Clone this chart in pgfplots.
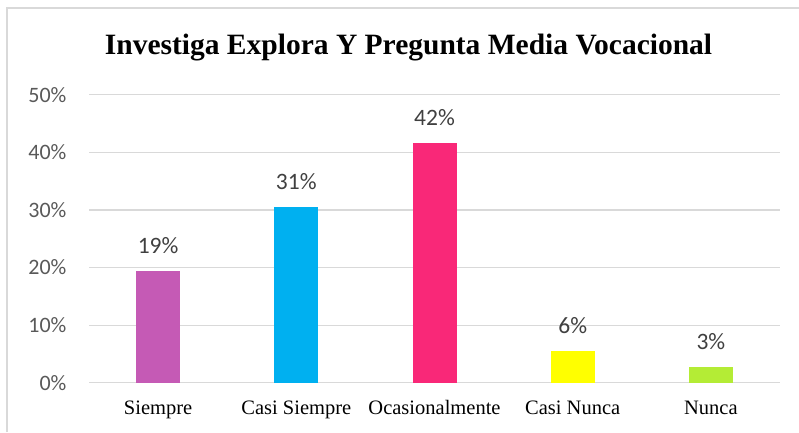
\documentclass[border=0pt]{standalone}
\usepackage{pgfplots}
\pgfplotsset{compat=1.18}
\usepackage{fontspec}
\setmainfont{Liberation Serif}
\newfontfamily\carlito{Carlito}
\definecolor{cSiempre}{HTML}{C55AB5}
\definecolor{cCasiSiempre}{HTML}{00B0F0}
\definecolor{cOcasional}{HTML}{F92878}
\definecolor{cCasiNunca}{HTML}{FFFF00}
\definecolor{cNunca}{HTML}{B4EC35}
\definecolor{gridgray}{HTML}{D9D9D9}
\definecolor{ticktext}{HTML}{595959}
\definecolor{labeltext}{HTML}{404040}
\begin{document}
\begin{tikzpicture}
  \useasboundingbox (0pt,0pt) rectangle (799pt,432pt);
  % chart border (only top and left edges are visible)
  \draw[gridgray, line width=1.5pt] (7pt,0pt) -- (7pt,424pt) -- (799pt,424pt);
  \node[anchor=base, font=\bfseries\fontsize{29.5}{33}\selectfont] at (408.5pt,377.7pt)
    {Investiga Explora Y Pregunta Media Vocacional};
  \begin{axis}[
      at={(89pt,49.3pt)}, anchor=south west,
      scale only axis, width=691pt, height=288pt,
      xmin=-0.5, xmax=4.5, ymin=0, ymax=50,
      xtick={0,1,2,3,4},
      xticklabels={Siempre, Casi Siempre, Ocasionalmente, Casi Nunca, Nunca},
      ytick={0,10,20,30,40,50},
      yticklabel={\pgfmathprintnumber{\tick}\%},
      /pgf/number format/assume math mode=true,
      axis line style={draw=none},
      major tick length=0pt,
      ymajorgrids, grid style={gridgray, line width=1.2pt},
      yticklabel style={font=\carlito\fontsize{22}{25}\selectfont, text=ticktext, xshift=-19pt},
      xticklabel style={font=\fontsize{20.5}{24}\selectfont, anchor=base, yshift=-32pt},
      ybar, bar width=44pt, bar shift=0pt,
      nodes near coords={\pgfmathprintnumber[fixed,precision=0]{\pgfplotspointmeta}\%},
      every node near coord/.append style={font=\carlito\fontsize{23.5}{26}\selectfont,
        text=labeltext, anchor=base, yshift=17pt},
      clip=false,
    ]
    \addplot[draw=none, fill=cSiempre] coordinates {(0,19.44)};
    \addplot[draw=none, fill=cCasiSiempre] coordinates {(1,30.56)};
    \addplot[draw=none, fill=cOcasional] coordinates {(2,41.67)};
    \addplot[draw=none, fill=cCasiNunca] coordinates {(3,5.56)};
    \addplot[draw=none, fill=cNunca] coordinates {(4,2.78)};
  \end{axis}
\end{tikzpicture}
\end{document}
